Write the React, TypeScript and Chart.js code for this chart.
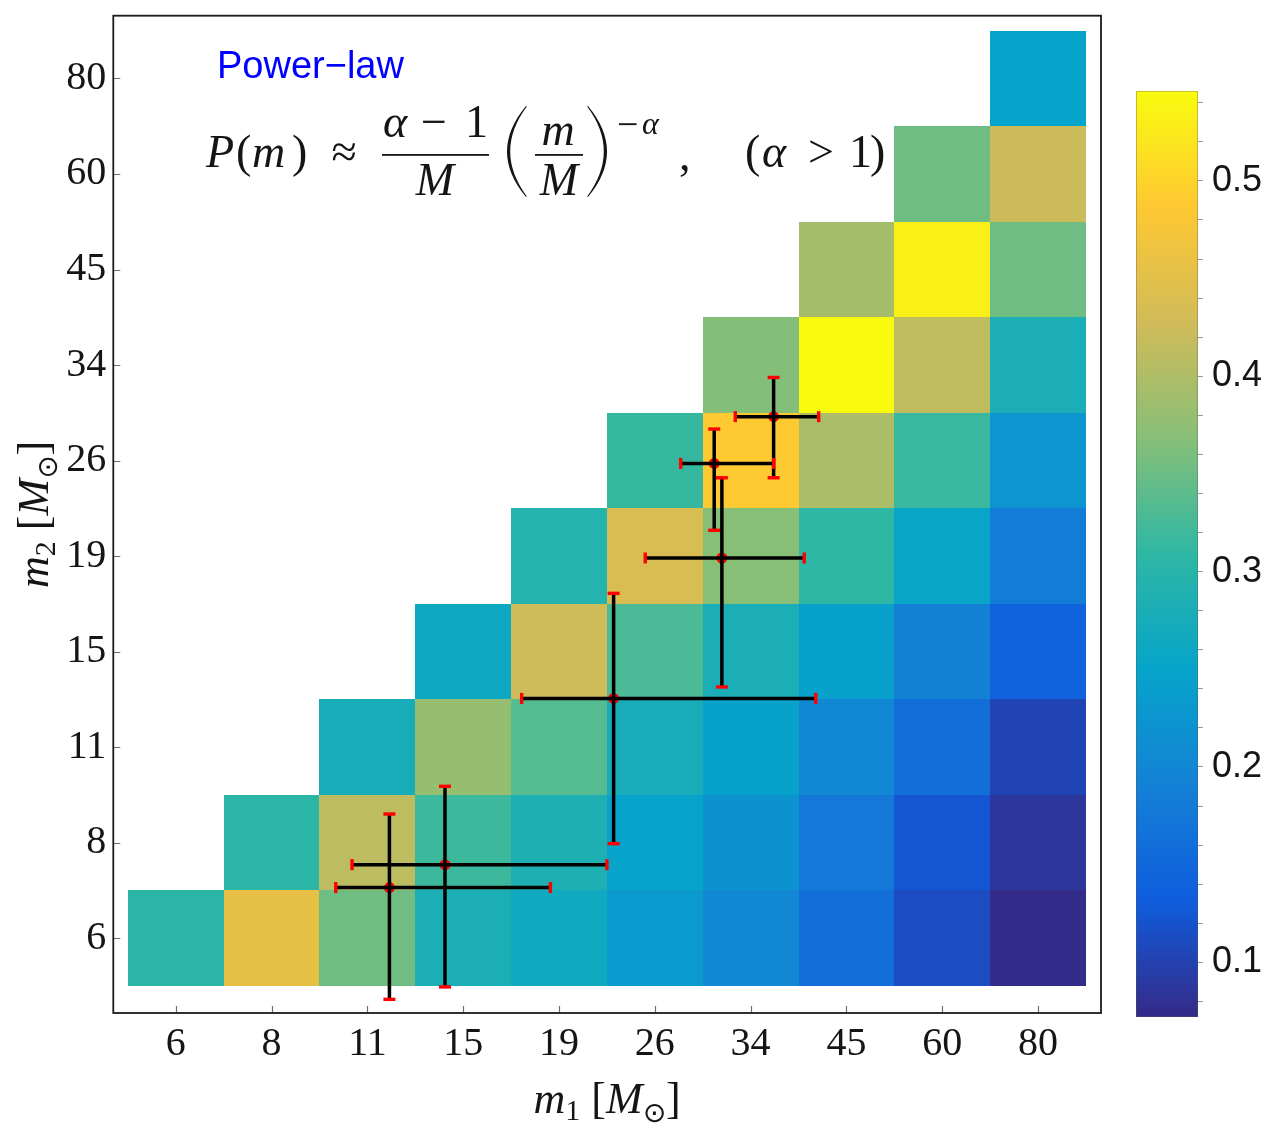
import React, { useEffect, useRef } from 'react';
import { Chart, registerables } from 'chart.js';

Chart.register(...registerables);

// Mass bins shared by both axes (solar masses)
const MASS_BINS = ['6', '8', '11', '15', '19', '26', '34', '45', '60', '80'];

// Probability per (m1, m2) bin. Each row is one m2 bin and starts at the m1 bin equal to it.
const P_M2_6 = [0.304, 0.456, 0.352, 0.282, 0.266, 0.233, 0.2, 0.162, 0.112, 0.074];
const P_M2_8 = [0.304, 0.412, 0.318, 0.285, 0.25, 0.219, 0.176, 0.124, 0.086];
const P_M2_11 = [0.276, 0.38, 0.335, 0.276, 0.245, 0.2, 0.162, 0.103];
const P_M2_15 = [0.262, 0.425, 0.328, 0.281, 0.245, 0.193, 0.143];
const P_M2_19 = [0.295, 0.437, 0.368, 0.309, 0.252, 0.183];
const P_M2_26 = [0.314, 0.489, 0.397, 0.316, 0.224];
const P_M2_34 = [0.366, 0.546, 0.413, 0.281];
const P_M2_45 = [0.392, 0.532, 0.352];
const P_M2_60 = [0.352, 0.423];
const P_M2_80 = [0.25];
const P_ROWS = [P_M2_6, P_M2_8, P_M2_11, P_M2_15, P_M2_19, P_M2_26, P_M2_34, P_M2_45, P_M2_60, P_M2_80];

// Colour scale limits
const VMIN = 0.072;
const VMAX = 0.546;
const COLORBAR_LABELS = [0.1, 0.2, 0.3, 0.4, 0.5];
const COLORBAR_MINOR_STEP = 0.02;

// Detected events, in bin-index coordinates, with their ranges
const EVENT_M1 = [6.24, 5.62, 5.7, 4.57, 2.81, 2.23];
const EVENT_M1_LO = [5.84, 5.27, 4.9, 3.61, 1.84, 1.67];
const EVENT_M1_HI = [6.71, 6.24, 6.56, 6.68, 4.5, 3.91];
const EVENT_M2 = [5.46, 4.97, 3.98, 2.51, 0.77, 0.53];
const EVENT_M2_LO = [4.82, 4.27, 2.63, 0.99, -0.51, -0.64];
const EVENT_M2_HI = [5.87, 5.33, 4.82, 3.61, 1.59, 1.3];

// Parula colormap stops
const PARULA = [
  [53, 42, 135],
  [15, 92, 221],
  [20, 129, 214],
  [6, 164, 202],
  [46, 183, 164],
  [135, 191, 119],
  [209, 187, 89],
  [254, 200, 50],
  [249, 251, 14],
];

function parula(t: number): string {
  const c = Math.max(0, Math.min(1, t)) * (PARULA.length - 1);
  const i = Math.min(PARULA.length - 2, Math.floor(c));
  const f = c - i;
  const a = PARULA[i];
  const b = PARULA[i + 1];
  const r = Math.round(a[0] + (b[0] - a[0]) * f);
  const g = Math.round(a[1] + (b[1] - a[1]) * f);
  const bl = Math.round(a[2] + (b[2] - a[2]) * f);
  return `rgb(${r},${g},${bl})`;
}

const SERIF = '"Liberation Serif", "DejaVu Serif", serif';
const SANS = '"Liberation Sans", Arial, sans-serif';
const SYMBOL = '"DejaVu Sans", "DejaVu Serif", sans-serif';
const INK = '#151515';

type Piece = [string, string, number?];

function measureRun(ctx: CanvasRenderingContext2D, parts: Piece[]): number {
  let w = 0;
  for (const [s, f] of parts) {
    ctx.font = f;
    w += ctx.measureText(s).width;
  }
  return w;
}

function drawRun(ctx: CanvasRenderingContext2D, parts: Piece[], x: number, y: number) {
  ctx.textAlign = 'left';
  ctx.textBaseline = 'alphabetic';
  for (const [s, f, dy] of parts) {
    ctx.font = f;
    ctx.fillText(s, x, y + (dy || 0));
    x += ctx.measureText(s).width;
  }
}

function put(ctx: CanvasRenderingContext2D, s: string, x: number, y: number, font: string, align: CanvasTextAlign = 'left') {
  ctx.font = font;
  ctx.textAlign = align;
  ctx.textBaseline = 'alphabetic';
  ctx.fillText(s, x, y);
}

// Tall thin delimiter; dir = 1 for "(", -1 for ")"
function bigParen(ctx: CanvasRenderingContext2D, tipX: number, bellyX: number, y0: number, y1: number, dir: number) {
  const ym = (y0 + y1) / 2;
  const th = 3.2 * dir;
  const outerC = 2 * bellyX - tipX;
  const innerC = 2 * (bellyX + th) - (tipX + 0.8 * dir);
  ctx.beginPath();
  ctx.moveTo(tipX, y0);
  ctx.quadraticCurveTo(outerC, ym, tipX, y1);
  ctx.lineTo(tipX + 0.8 * dir, y1 - 0.6);
  ctx.quadraticCurveTo(innerC, ym, tipX + 0.8 * dir, y0 + 0.6);
  ctx.closePath();
  ctx.fill();
}

const heatmapPlugin = {
  id: 'heatmapCells',
  beforeDatasetsDraw(chart: any) {
    const { ctx, scales } = chart;
    const xs = scales.x;
    const ys = scales.y;
    ctx.save();
    P_ROWS.forEach((row, j) => {
      row.forEach((v, k) => {
        const i = j + k;
        const x0 = Math.round(xs.getPixelForValue(i - 0.5));
        const x1 = Math.round(xs.getPixelForValue(i + 0.5));
        const y0 = Math.round(ys.getPixelForValue(j + 0.5));
        const y1 = Math.round(ys.getPixelForValue(j - 0.5));
        ctx.fillStyle = parula((v - VMIN) / (VMAX - VMIN));
        ctx.fillRect(x0, y0, x1 - x0, y1 - y0);
      });
    });
    ctx.restore();
  },
};

const errorBarPlugin = {
  id: 'eventErrorBars',
  afterDatasetsDraw(chart: any) {
    const { ctx, scales } = chart;
    const xs = scales.x;
    const ys = scales.y;
    ctx.save();
    EVENT_M1.forEach((m1, k) => {
      const cx = xs.getPixelForValue(m1);
      const cy = ys.getPixelForValue(EVENT_M2[k]);
      const xl = xs.getPixelForValue(EVENT_M1_LO[k]);
      const xh = xs.getPixelForValue(EVENT_M1_HI[k]);
      const yl = ys.getPixelForValue(EVENT_M2_LO[k]);
      const yh = ys.getPixelForValue(EVENT_M2_HI[k]);
      ctx.strokeStyle = '#000';
      ctx.lineWidth = 3.5;
      ctx.lineCap = 'butt';
      ctx.beginPath();
      ctx.moveTo(xl, cy);
      ctx.lineTo(xh, cy);
      ctx.moveTo(cx, yl);
      ctx.lineTo(cx, yh);
      ctx.stroke();
      ctx.fillStyle = '#f00';
      ctx.fillRect(xl - 1.7, cy - 5.5, 3.4, 11);
      ctx.fillRect(xh - 1.7, cy - 5.5, 3.4, 11);
      ctx.fillRect(cx - 6, yl - 1.7, 12, 3.4);
      ctx.fillRect(cx - 6, yh - 1.7, 12, 3.4);
    });
    ctx.restore();
  },
};

const framePlugin = {
  id: 'frameAndText',
  afterDraw(chart: any) {
    const { ctx, chartArea, scales } = chart;
    const { left, right, top, bottom } = chartArea;
    ctx.save();

    // inward tick marks on the bottom and left axes
    ctx.strokeStyle = '#707070';
    ctx.lineWidth = 1.2;
    ctx.beginPath();
    MASS_BINS.forEach((_, i) => {
      const px = Math.round(scales.x.getPixelForValue(i)) + 0.5;
      ctx.moveTo(px, bottom);
      ctx.lineTo(px, bottom - 7);
      const py = Math.round(scales.y.getPixelForValue(i)) + 0.5;
      ctx.moveTo(left, py);
      ctx.lineTo(left + 7, py);
    });
    ctx.stroke();

    // frame
    ctx.strokeStyle = '#1a1a1a';
    ctx.lineWidth = 1.8;
    ctx.strokeRect(left, top, right - left, bottom - top);

    ctx.fillStyle = INK;

    // axis titles
    const ti = `italic 44px ${SERIF}`;
    const tr = `44px ${SERIF}`;
    const ts = `30px ${SERIF}`;
    const sym = `28px ${SYMBOL}`;
    const xTitle: Piece[] = [['m', ti], ['1', ts, 7], [' [', tr], ['M', ti], ['⊙', sym, 9], [']', tr]];
    const xw = measureRun(ctx, xTitle);
    drawRun(ctx, xTitle, (left + right) / 2 - xw / 2, 1113);

    const yTitle: Piece[] = [['m', ti], ['2', ts, 7], [' [', tr], ['M', ti], ['⊙', sym, 9], [']', tr]];
    const yw = measureRun(ctx, yTitle);
    ctx.save();
    ctx.translate(48, (top + bottom) / 2);
    ctx.rotate(-Math.PI / 2);
    drawRun(ctx, yTitle, -yw / 2, 0);
    ctx.restore();

    // model label
    ctx.fillStyle = '#0000ff';
    put(ctx, 'Power−law', 217, 78, `38px ${SANS}`);

    // formula
    ctx.fillStyle = INK;
    const IT = `italic 46px ${SERIF}`;
    const RM = `46px ${SERIF}`;
    put(ctx, 'P', 206, 167, IT);
    put(ctx, '(', 236, 167, RM);
    put(ctx, 'm', 252, 167, IT);
    put(ctx, ')', 292, 167, RM);
    put(ctx, '≈', 344, 167, RM, 'center');
    put(ctx, 'α', 383, 137, IT);
    put(ctx, '−', 434, 137, RM, 'center');
    put(ctx, '1', 465, 137, RM);
    put(ctx, 'M', 435, 195, IT, 'center');
    put(ctx, 'm', 558, 145, IT, 'center');
    put(ctx, 'M', 559, 195, IT, 'center');
    ctx.fillRect(382, 154, 107, 1.8);
    ctx.fillRect(535, 154, 48, 1.8);
    bigParen(ctx, 526, 507, 106, 197, 1);
    bigParen(ctx, 588, 607, 106, 197, -1);
    put(ctx, '−', 617, 137, `38px ${SERIF}`);
    put(ctx, 'α', 642, 134, `italic 32px ${SERIF}`);
    put(ctx, ',', 679, 170, RM);
    put(ctx, '(', 745, 167, RM);
    put(ctx, 'α', 762, 167, IT);
    put(ctx, '>', 821, 167, RM, 'center');
    put(ctx, '1', 849, 167, RM);
    put(ctx, ')', 870, 167, RM);

    ctx.restore();
  },
};

const colorbarPlugin = {
  id: 'colorbarFill',
  beforeDatasetsDraw(chart: any) {
    const { ctx, chartArea } = chart;
    const { left, right, top, bottom } = chartArea;
    const g = ctx.createLinearGradient(0, bottom, 0, top);
    PARULA.forEach((_, k) => {
      const t = k / (PARULA.length - 1);
      g.addColorStop(t, parula(t));
    });
    ctx.save();
    ctx.fillStyle = g;
    ctx.fillRect(left, top, right - left, bottom - top);
    ctx.strokeStyle = 'rgba(90,90,90,0.35)';
    ctx.lineWidth = 1;
    ctx.strokeRect(left + 0.5, top + 0.5, right - left - 1, bottom - top - 1);
    ctx.restore();
  },
};

export default function App() {
  const mainRef = useRef<HTMLCanvasElement>(null);
  const barRef = useRef<HTMLCanvasElement>(null);

  useEffect(() => {
    const tickFont = { family: SERIF, size: 40 };

    const main = new Chart(mainRef.current as HTMLCanvasElement, {
      type: 'scatter',
      data: {
        datasets: [
          {
            data: EVENT_M1.map((m1, k) => ({ x: m1, y: EVENT_M2[k] })),
            pointRadius: 5.5,
            pointBackgroundColor: '#f00',
            pointBorderWidth: 0,
            clip: false as any,
          },
        ],
      },
      options: {
        animation: false,
        responsive: false,
        devicePixelRatio: 1,
        layout: { padding: { left: 0, top: 15.7, right: 7, bottom: 0 } },
        plugins: { legend: { display: false }, tooltip: { enabled: false } },
        scales: {
          x: {
            type: 'linear',
            min: -0.652,
            max: 9.657,
            afterBuildTicks: (s: any) => {
              s.ticks = MASS_BINS.map((_, i) => ({ value: i }));
            },
            afterFit: (s: any) => {
              s.height = 114;
              s.paddingLeft = 0;
              s.paddingRight = 0;
            },
            ticks: {
              autoSkip: false,
              maxRotation: 0,
              font: tickFont,
              color: INK,
              padding: 7,
              callback: (_v: any, i: number) => MASS_BINS[i],
            },
            grid: { display: false, drawTicks: false },
            border: { display: false },
          },
          y: {
            type: 'linear',
            min: -0.783,
            max: 9.657,
            afterBuildTicks: (s: any) => {
              s.ticks = MASS_BINS.map((_, i) => ({ value: i }));
            },
            afterFit: (s: any) => {
              s.width = 113.3;
              s.paddingTop = 0;
              s.paddingBottom = 0;
            },
            ticks: {
              autoSkip: false,
              font: tickFont,
              color: INK,
              padding: 7,
              callback: (_v: any, i: number) => MASS_BINS[i],
            },
            grid: { display: false, drawTicks: false },
            border: { display: false },
          },
        },
      },
      plugins: [heatmapPlugin, errorBarPlugin, framePlugin],
    });

    const bar = new Chart(barRef.current as HTMLCanvasElement, {
      type: 'scatter',
      data: { datasets: [] },
      options: {
        animation: false,
        responsive: false,
        devicePixelRatio: 1,
        layout: { padding: { left: 28, top: 91, right: 0, bottom: 110 } },
        plugins: { legend: { display: false }, tooltip: { enabled: false } },
        scales: {
          x: { display: false },
          y: {
            type: 'linear',
            position: 'right',
            min: VMIN,
            max: VMAX,
            afterBuildTicks: (s: any) => {
              const ticks: { value: number }[] = [];
              const first = Math.ceil(VMIN / COLORBAR_MINOR_STEP);
              const last = Math.floor(VMAX / COLORBAR_MINOR_STEP);
              for (let n = first; n <= last; n++) ticks.push({ value: +(n * COLORBAR_MINOR_STEP).toFixed(2) });
              s.ticks = ticks;
            },
            afterFit: (s: any) => {
              s.width = 71;
              s.paddingTop = 0;
              s.paddingBottom = 0;
            },
            ticks: {
              autoSkip: false,
              font: { family: SANS, size: 36 },
              color: INK,
              padding: 9,
              callback: (v: any) => {
                const hit = COLORBAR_LABELS.find((l) => Math.abs(l - v) < 1e-6);
                return hit !== undefined ? hit.toFixed(1) : '';
              },
            },
            grid: { drawOnChartArea: false, tickLength: 5, tickColor: '#9a9a9a', tickWidth: 1 },
            border: { display: false },
          },
        },
      },
      plugins: [colorbarPlugin],
    });

    return () => {
      main.destroy();
      bar.destroy();
    };
  }, []);

  return (
    <div
      style={{
        position: 'absolute',
        left: 0,
        top: 0,
        width: 1269,
        height: 1127,
        overflow: 'hidden',
        background: '#fff',
      }}
    >
      <canvas
        ref={mainRef}
        width={1108}
        height={1127}
        style={{ position: 'absolute', left: 0, top: 0, width: 1108, height: 1127 }}
      />
      <canvas
        ref={barRef}
        width={161}
        height={1127}
        style={{ position: 'absolute', left: 1108, top: 0, width: 161, height: 1127 }}
      />
    </div>
  );
}
